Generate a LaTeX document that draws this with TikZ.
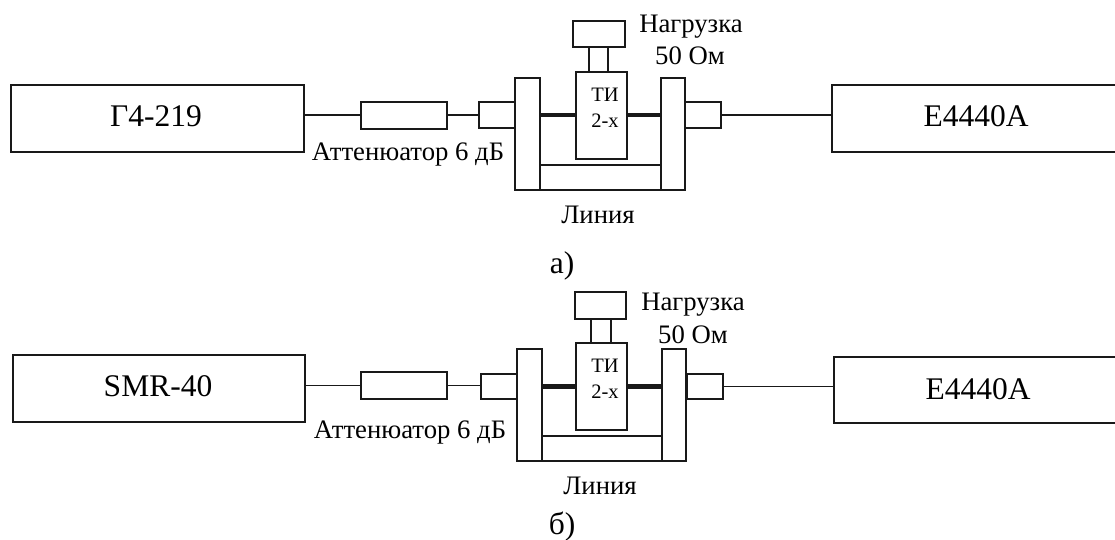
\documentclass[tikz,border=0pt]{standalone}
\usepackage{fontspec}
\setmainfont{Liberation Serif}
\usepackage{tikz}
\usetikzlibrary{positioning}

\tikzset{
    part/.style n args={2}{draw=black!90, fill=white, line width=1.8pt, anchor=north west, inner sep=0pt, minimum width=#1pt, minimum height=#2pt},
    wire/.style={draw=black!90, line width=1.8pt},
    thickwire/.style={draw=black!90, line width=4.5pt},
    devicetext/.style={font=\fontsize{31.5}{31.5}\selectfont},
    labeltext/.style={font=\fontsize{26.7}{26.7}\selectfont},
    smalltext/.style={font=\fontsize{20.5}{20.5}\selectfont}
}

\begin{document}
\begin{tikzpicture}[x=1pt, y=-1pt]
    \useasboundingbox (0,0) rectangle (1115,540);
    \fill[white] (0,0) rectangle (1115,540);
    \clip (0,0) rectangle (1115,540);

    % a)
    \node[part={293}{67}] (gena) at (10,84) {};
    \node[part={86}{27}] (atta) at (360,101) {};
    \node[part={36}{26}] (conla) at (478,101) {};
    \node[part={25}{112}] (flangela) at (514,77) {};
    \node[part={24}{112}] (flangera) at (660,77) {};
    \node[part={121}{25}] (basea) at (539,164) {};
    \node[part={36}{26}] (conra) at (684,101) {};
    \node[part={300}{67}] (speca) at (831,84) {};
    \node[part={51}{87}] (tia) at (575,71) {};
    \node[part={19}{25}] (stema) at (588,46) {};
    \node[part={52}{26}] (loada) at (572,20) {};

    \draw[wire] (atta.west) -- (atta.west -| gena.east);
    \draw[wire] (atta.east) -- (atta.east -| conla.west);
    \draw[wire] (conra.east) -- (speca.west |- conra.east);
    \draw[thickwire] (flangela.east |- conla.east) -- (tia.west |- conla.east);
    \draw[thickwire] (tia.east |- conra.west) -- (flangera.west |- conra.west);

    \node[devicetext] (gentexta) at (156,116) {Г4-219};
    \node[devicetext] (spectexta) at (976,116) {E4440A};
    \node[labeltext] (atttexta) at (408,155) {Аттенюатор 6 дБ};
    \node[smalltext] (titexta) at (605,95) {ТИ};
    \node[smalltext] (twotexta) at (605,121) {2-х};
    \node[labeltext] (loadtexta) at (691,27) {Нагрузка};
    \node[labeltext] (ohmtexta) at (690,56) {50 Ом};
    \node[labeltext] (linetexta) at (598,215) {Линия};
    \node[devicetext] (capa) at (562,266) {а)};

    % б)
    \node[part={292}{67}] (genb) at (12,354) {};
    \node[part={86}{27}] (attb) at (360,371) {};
    \node[part={36}{25}] (conlb) at (480,373) {};
    \node[part={25}{112}] (flangelb) at (516,348) {};
    \node[part={24}{112}] (flangerb) at (661,348) {};
    \node[part={120}{25}] (baseb) at (541,435) {};
    \node[part={36}{25}] (conrb) at (686,373) {};
    \node[part={300}{66}] (specb) at (833,356) {};
    \node[part={51}{87}] (tib) at (575,342) {};
    \node[part={20}{24}] (stemb) at (590,318) {};
    \node[part={51}{27}] (loadb) at (574,291) {};

    \draw[wire] (attb.west) -- (attb.west -| genb.east);
    \draw[wire] (attb.east) -- (attb.east -| conlb.west);
    \draw[wire] (conrb.east) -- (specb.west |- conrb.east);
    \draw[thickwire] (flangelb.east |- conlb.east) -- (tib.west |- conlb.east);
    \draw[thickwire] (tib.east |- conrb.west) -- (flangerb.west |- conrb.west);

    \node[devicetext] (gentextb) at (158,386) {SMR-40};
    \node[devicetext] (spectextb) at (978,389) {E4440A};
    \node[labeltext] (atttextb) at (410,432) {Аттенюатор 6 дБ};
    \node[smalltext] (titextb) at (605,366) {ТИ};
    \node[smalltext] (twotextb) at (605,392) {2-х};
    \node[labeltext] (loadtextb) at (693,305) {Нагрузка};
    \node[labeltext] (ohmtextb) at (693,335) {50 Ом};
    \node[labeltext] (linetextb) at (600,486) {Линия};
    \node[devicetext] (capb) at (562,527) {б)};
\end{tikzpicture}
\end{document}
